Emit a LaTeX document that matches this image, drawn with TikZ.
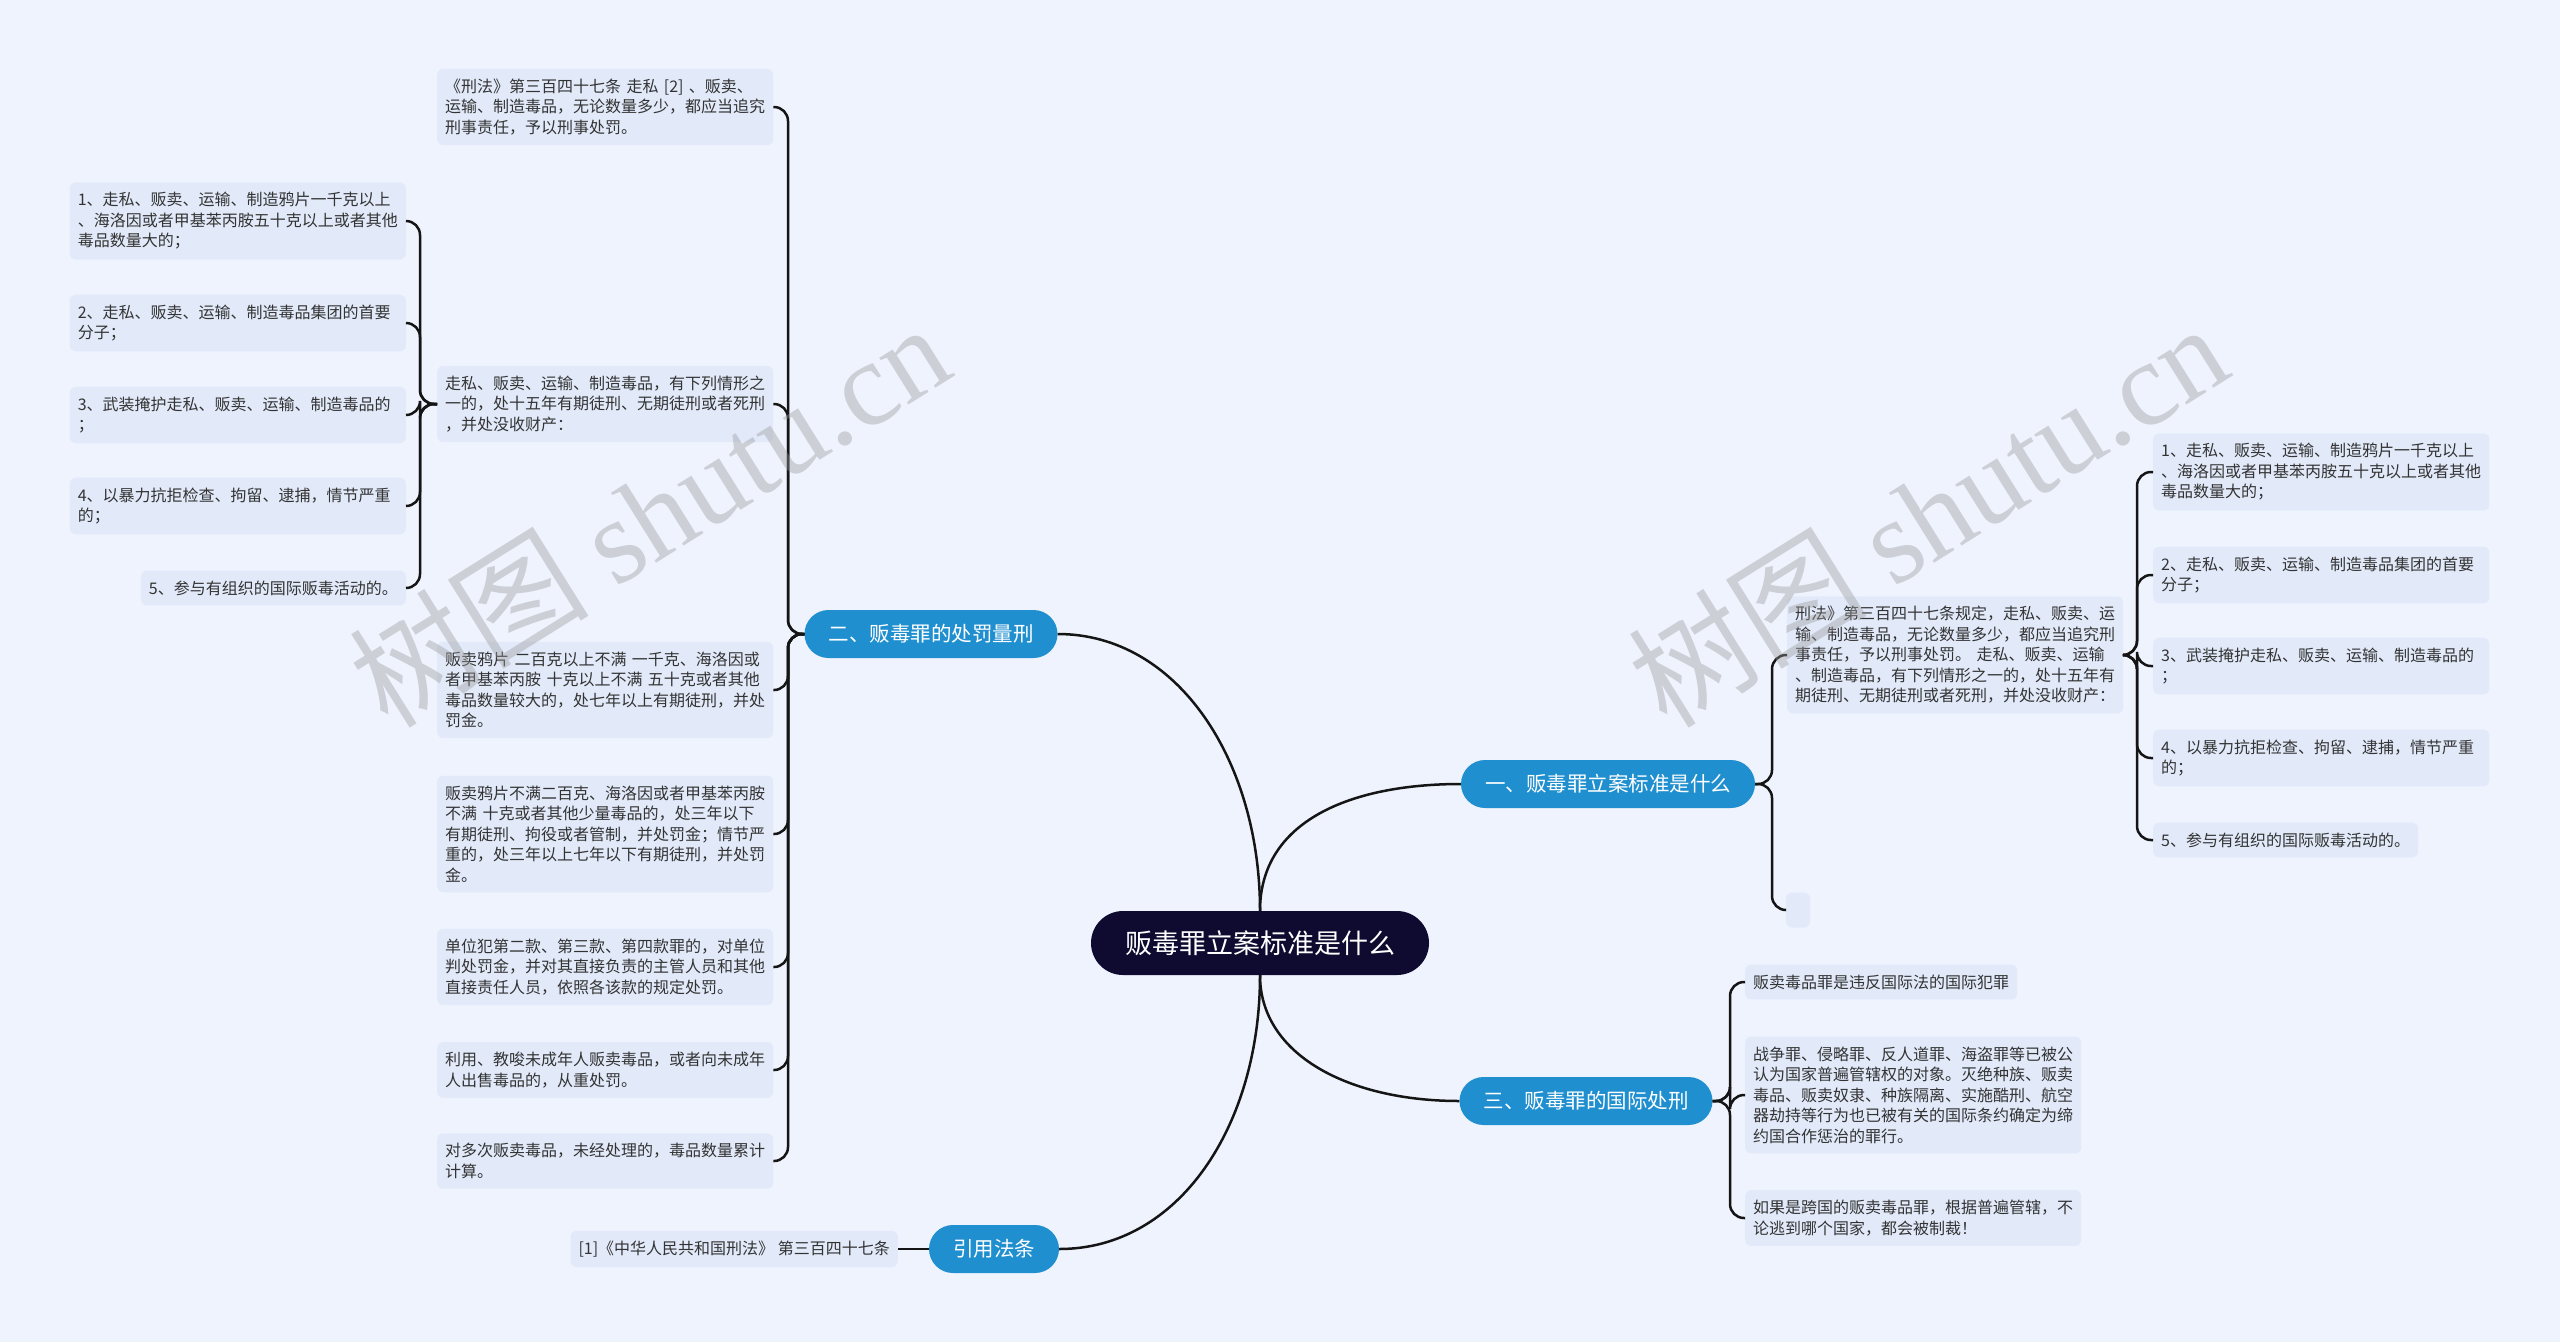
\documentclass[tikz,border=0pt]{standalone}
\usepackage{fontspec}
\setmainfont{Noto Sans CJK SC}
\newfontfamily\wmlatin{Liberation Serif}
\definecolor{bgcol}{HTML}{EEF3FE}
\definecolor{leafcol}{HTML}{E2EAFA}
\definecolor{txtcol}{HTML}{333333}
\definecolor{topcol}{HTML}{1F8FCF}
\definecolor{rootcol}{HTML}{0E0A30}
\definecolor{linecol}{HTML}{151515}
\tikzset{
  leaf/.style={fill=leafcol, rounded corners=6pt, inner xsep=8pt, inner ysep=10pt,
    text=txtcol, font=\fontsize{16}{20.5}\selectfont, align=left},
  wide/.style={leaf, text width=320pt},
  topic/.style={fill=topcol, rounded corners=24pt, minimum height=48pt, inner xsep=24pt,
    text=white, font=\fontsize{20.5}{24}\selectfont},
  link/.style={draw=linecol, line width=2.5pt, rounded corners=14pt},
  wm/.style={text=gray!80, opacity=0.4, rotate=32}
}
\begin{document}
\begin{tikzpicture}[x=1pt,y=-1pt]
\useasboundingbox (0,0) rectangle (2560,1342);
\fill[bgcol] (0,0) rectangle (2560,1342);

\node[fill=rootcol, rounded corners=32pt, minimum width=338pt, minimum height=64pt,
  text=white, font=\fontsize{27}{30}\selectfont] (r) at (1260,943) {贩毒罪立案标准是什么};
\node[topic] (t1) at (1608,784) {一、贩毒罪立案标准是什么};
\node[topic] (t2) at (931,634) {二、贩毒罪的处罚量刑};
\node[topic] (t3) at (1586,1101) {三、贩毒罪的国际处刑};
\node[topic] (t4) at (994,1249) {引用法条};

\node[wide, anchor=west] (p1) at (437,107) {《刑法》第三百四十七条 走私 [2] 、贩卖、\\运输、制造毒品，无论数量多少，都应当追究\\刑事责任，予以刑事处罚。};
\node[wide, anchor=west] (p2) at (437,404) {走私、贩卖、运输、制造毒品，有下列情形之\\一的，处十五年有期徒刑、无期徒刑或者死刑\\，并处没收财产：};
\node[wide, anchor=west] (p3) at (437,690) {贩卖鸦片 二百克以上不满 一千克、海洛因或\\者甲基苯丙胺 十克以上不满 五十克或者其他\\毒品数量较大的，处七年以上有期徒刑，并处\\罚金。};
\node[wide, anchor=west] (p4) at (437,834) {贩卖鸦片不满二百克、海洛因或者甲基苯丙胺\\不满 十克或者其他少量毒品的，处三年以下\\有期徒刑、拘役或者管制，并处罚金；情节严\\重的，处三年以上七年以下有期徒刑，并处罚\\金。};
\node[wide, anchor=west] (p5) at (437,967) {单位犯第二款、第三款、第四款罪的，对单位\\判处罚金，并对其直接负责的主管人员和其他\\直接责任人员，依照各该款的规定处罚。};
\node[wide, anchor=west] (p6) at (437,1070) {利用、教唆未成年人贩卖毒品，或者向未成年\\人出售毒品的，从重处罚。};
\node[wide, anchor=west] (p7) at (437,1161) {对多次贩卖毒品，未经处理的，毒品数量累计\\计算。};

\node[wide, anchor=east] (a1) at (406,221) {1、走私、贩卖、运输、制造鸦片一千克以上\\、海洛因或者甲基苯丙胺五十克以上或者其他\\毒品数量大的；};
\node[wide, anchor=east] (a2) at (406,323) {2、走私、贩卖、运输、制造毒品集团的首要\\分子；};
\node[wide, anchor=east] (a3) at (406,415) {3、武装掩护走私、贩卖、运输、制造毒品的\\；};
\node[wide, anchor=east] (a4) at (406,506) {4、以暴力抗拒检查、拘留、逮捕，情节严重\\的；};
\node[leaf, anchor=east] (a5) at (406,588) {5、参与有组织的国际贩毒活动的。};

\node[wide, anchor=west] (c0) at (1787,655) {刑法》第三百四十七条规定，走私、贩卖、运\\输、制造毒品，无论数量多少，都应当追究刑\\事责任，予以刑事处罚。 走私、贩卖、运输\\、制造毒品，有下列情形之一的，处十五年有\\期徒刑、无期徒刑或者死刑，并处没收财产：};
\node[leaf, minimum width=24pt, minimum height=35pt, inner sep=0pt] (c1) at (1798,910) {};

\node[wide, anchor=west] (d1) at (2153,472) {1、走私、贩卖、运输、制造鸦片一千克以上\\、海洛因或者甲基苯丙胺五十克以上或者其他\\毒品数量大的；};
\node[wide, anchor=west] (d2) at (2153,575) {2、走私、贩卖、运输、制造毒品集团的首要\\分子；};
\node[wide, anchor=west] (d3) at (2153,666) {3、武装掩护走私、贩卖、运输、制造毒品的\\；};
\node[wide, anchor=west] (d4) at (2153,758) {4、以暴力抗拒检查、拘留、逮捕，情节严重\\的；};
\node[leaf, anchor=west] (d5) at (2153,840) {5、参与有组织的国际贩毒活动的。};

\node[leaf, anchor=west] (e1) at (1745,982) {贩卖毒品罪是违反国际法的国际犯罪};
\node[wide, anchor=west] (e2) at (1745,1095) {战争罪、侵略罪、反人道罪、海盗罪等已被公\\认为国家普遍管辖权的对象。灭绝种族、贩卖\\毒品、贩卖奴隶、种族隔离、实施酷刑、航空\\器劫持等行为也已被有关的国际条约确定为缔\\约国合作惩治的罪行。};
\node[wide, anchor=west] (e3) at (1745,1218) {如果是跨国的贩卖毒品罪，根据普遍管辖，不\\论逃到哪个国家，都会被制裁！};

\node[leaf, anchor=east] (l1) at (898,1249) {[1]《中华人民共和国刑法》 第三百四十七条};

\draw[link] (r.north) .. controls +(0,-150) and +(120,0) .. (t2.east);
\draw[link] (r.north) .. controls +(0,-90) and +(-110,0) .. (t1.west);
\draw[link] (r.south) .. controls +(0,80) and +(-110,0) .. (t3.west);
\draw[link] (r.south) .. controls +(0,150) and +(120,0) .. (t4.east);

\foreach \k in {1,...,7}
  \draw[link] (t2.west) -- (788,634) |- (p\k.east);
\foreach \k in {1,...,5}
  \draw[link] (p2.west) -- (420,404) |- (a\k.east);
\foreach \k in {0,1}
  \draw[link] (t1.east) -- (1772,784) |- (c\k.west);
\foreach \k in {1,...,5}
  \draw[link] (c0.east) -- (2137,655) |- (d\k.west);
\foreach \k in {1,2,3}
  \draw[link] (t3.east) -- (1730,1101) |- (e\k.west);
\draw[link] (t4.west) -- (l1.east);

\node[wm] (w1) at (649,514) {\fontsize{120}{130}\selectfont 树图 \wmlatin shutu.cn};
\node[wm] (w2) at (1927,514) {\fontsize{120}{130}\selectfont 树图 \wmlatin shutu.cn};
\end{tikzpicture}
\end{document}
